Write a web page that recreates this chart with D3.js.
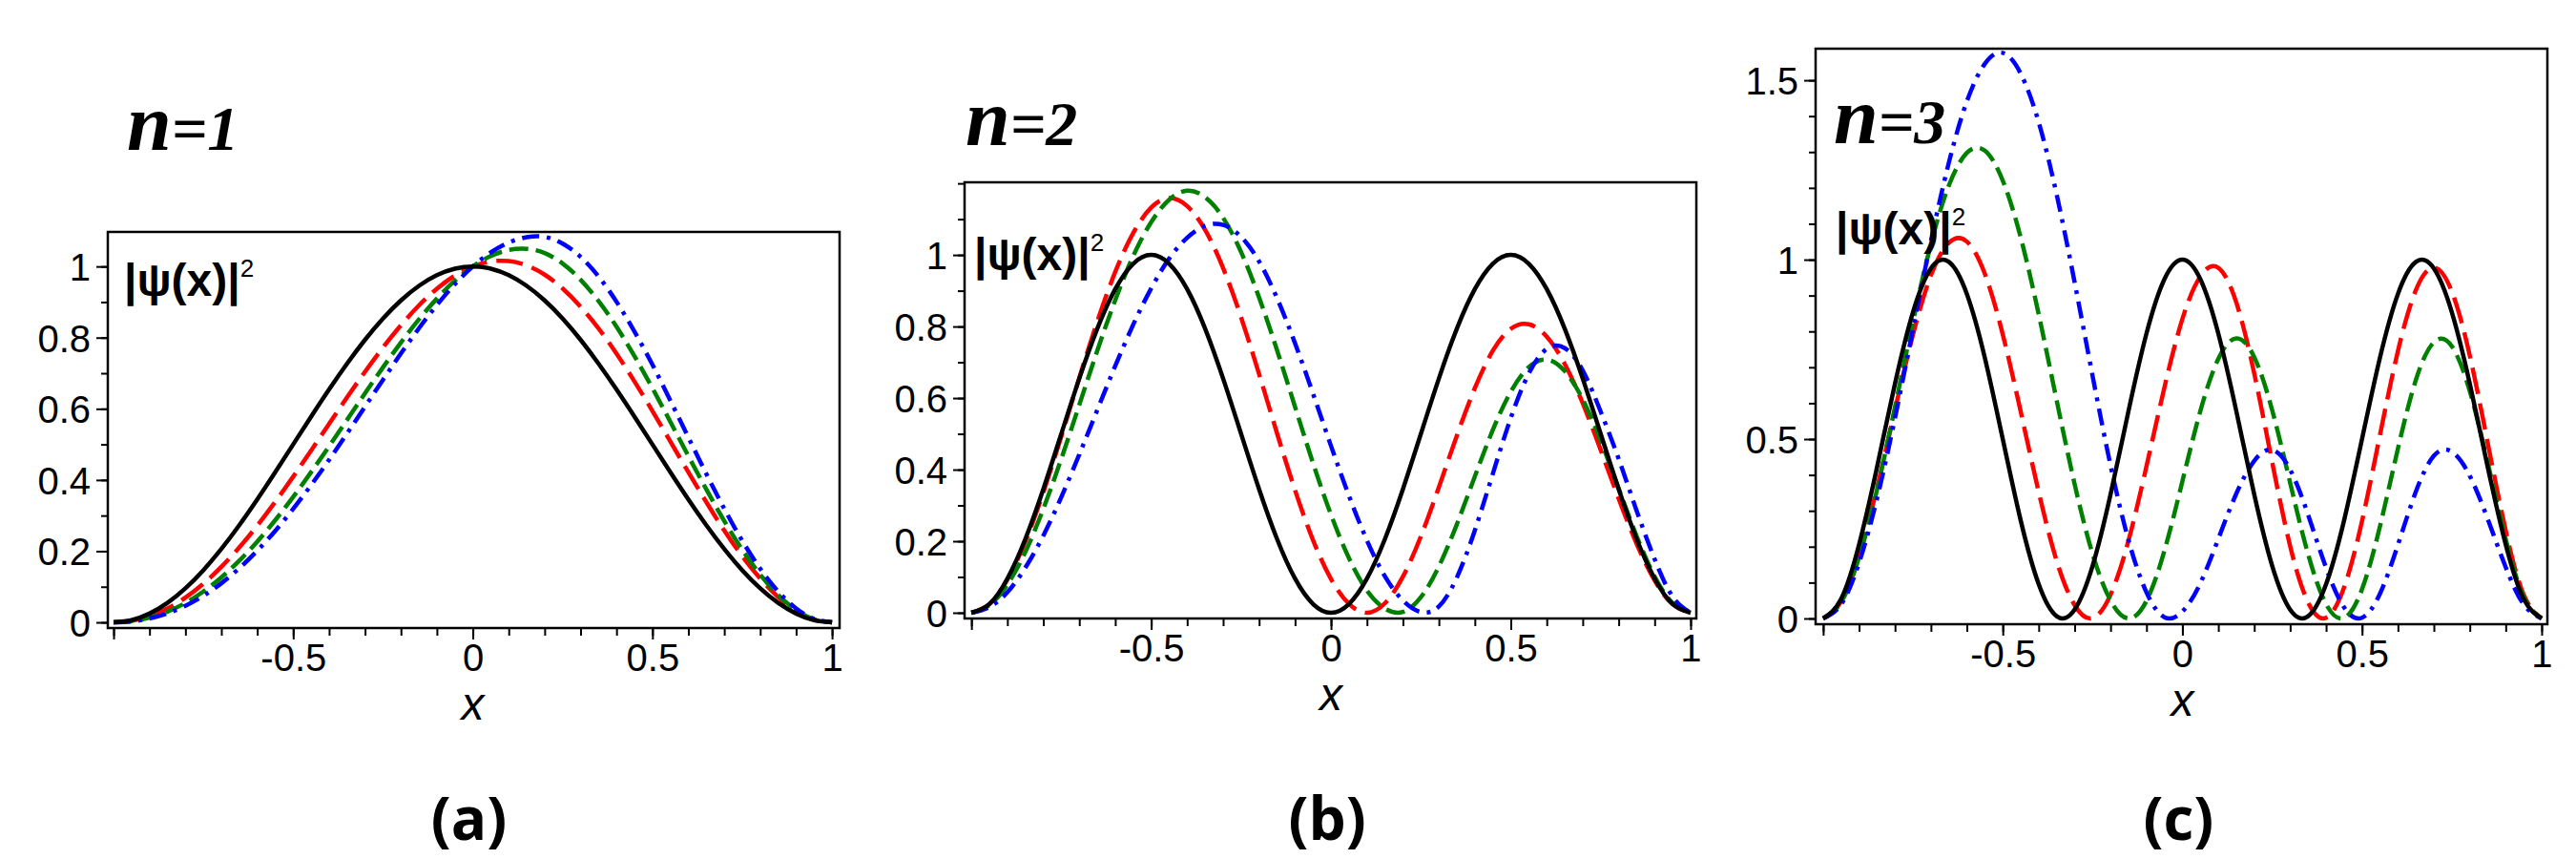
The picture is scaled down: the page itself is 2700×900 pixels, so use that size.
<!DOCTYPE html>
<html>
<head>
<meta charset="utf-8">
<script src="https://cdn.jsdelivr.net/npm/d3@7"></script>
<style>
  body { margin: 0; background: #fff; }
</style>
</head>
<body>
<script>
// x grid shared by every curve
var xs = [-1, -0.95, -0.9, -0.85, -0.8, -0.75, -0.7, -0.65, -0.6, -0.55, -0.5,
          -0.45, -0.4, -0.35, -0.3, -0.25, -0.2, -0.15, -0.1, -0.05, 0,
          0.05, 0.1, 0.15, 0.2, 0.25, 0.3, 0.35, 0.4, 0.45, 0.5,
          0.55, 0.6, 0.65, 0.7, 0.75, 0.8, 0.85, 0.9, 0.95, 1];

// n = 1
var n1Black = [0, 0.0062, 0.0245, 0.0545, 0.0955, 0.1464, 0.2061, 0.2730, 0.3455, 0.4218, 0.5,
               0.5782, 0.6545, 0.7270, 0.7939, 0.8536, 0.9045, 0.9455, 0.9755, 0.9938, 1,
               0.9938, 0.9755, 0.9455, 0.9045, 0.8536, 0.7939, 0.7270, 0.6545, 0.5782, 0.5,
               0.4218, 0.3455, 0.2730, 0.2061, 0.1464, 0.0955, 0.0545, 0.0245, 0.0062, 0];
var n1Red = [0, 0.0042, 0.0171, 0.0388, 0.0693, 0.1085, 0.1558, 0.2105, 0.2718, 0.3385, 0.4094,
             0.4830, 0.5577, 0.6321, 0.7041, 0.7723, 0.8350, 0.8905, 0.9373, 0.9742, 1.0,
             1.0139, 1.015, 1.003, 0.977, 0.938, 0.887, 0.826, 0.755, 0.677, 0.594,
             0.508, 0.422, 0.338, 0.258, 0.186, 0.123, 0.071, 0.032, 0.008, 0];
var n1Green = [0, 0.0032, 0.0130, 0.0301, 0.0545, 0.0866, 0.1263, 0.1732, 0.2270, 0.2870, 0.3524,
               0.4220, 0.4947, 0.5690, 0.6435, 0.7166, 0.7864, 0.8512, 0.9096, 0.9597, 1.0,
               1.0292, 1.0463, 1.0497, 1.0375, 1.0082, 0.9627, 0.9028, 0.8306, 0.7481, 0.6580,
               0.5634, 0.4676, 0.3738, 0.2849, 0.2041, 0.1340, 0.0769, 0.0346, 0.0087, 0];
var n1Blue = [0, 0.0026, 0.0109, 0.0254, 0.0465, 0.0746, 0.1098, 0.1521, 0.2013, 0.2571, 0.3188,
              0.3857, 0.4566, 0.5306, 0.6061, 0.6816, 0.7555, 0.8261, 0.8915, 0.9501, 1.0,
              1.0396, 1.0674, 1.0821, 1.0831, 1.0643, 1.0270, 0.9718, 0.9009, 0.8172, 0.7241,
              0.6231, 0.5197, 0.4172, 0.3192, 0.2293, 0.1509, 0.0868, 0.0392, 0.0099, 0];

// n = 2
var n2Black = [0, 0.0245, 0.0955, 0.2061, 0.3455, 0.5, 0.6545, 0.7939, 0.9045, 0.9755, 1,
               0.9755, 0.9045, 0.7939, 0.6545, 0.5, 0.3455, 0.2061, 0.0955, 0.0245, 0,
               0.0245, 0.0955, 0.2061, 0.3455, 0.5, 0.6545, 0.7939, 0.9045, 0.9755, 1,
               0.9755, 0.9045, 0.7939, 0.6545, 0.5, 0.3455, 0.2061, 0.0955, 0.0245, 0];
var n2Red = [0, 0.0243, 0.0925, 0.1990, 0.3361, 0.4927, 0.6566, 0.8139, 0.9524, 1.0613, 1.1324,
             1.1589, 1.1366, 1.0699, 0.9635, 0.8257, 0.6673, 0.5015, 0.3426, 0.2032, 0.0943,
             0.0248, 0, 0.0268, 0.1010, 0.2135, 0.3509, 0.4950, 0.6276, 0.7323, 0.7937,
             0.8062, 0.7717, 0.6954, 0.5857, 0.4551, 0.3190, 0.1927, 0.0904, 0.0237, 0];
var n2Green = [0, 0.0213, 0.0788, 0.1699, 0.2905, 0.4302, 0.5808, 0.7320, 0.8738, 0.9969, 1.0916,
               1.1544, 1.1797, 1.1615, 1.1038, 1.0081, 0.8813, 0.7337, 0.5756, 0.4183, 0.2740,
               0.1527, 0.0621, 0.0118, 0.0023, 0.0435, 0.1294, 0.2472, 0.3810, 0.5109, 0.6176,
               0.6865, 0.7077, 0.6754, 0.5965, 0.4812, 0.3471, 0.2142, 0.1015, 0.0273, 0];
var n2Blue = [0, 0.0160, 0.0571, 0.1260, 0.2155, 0.3232, 0.4422, 0.5664, 0.6897, 0.8052, 0.9067,
              0.9899, 1.0482, 1.0816, 1.0839, 1.0505, 0.9819, 0.8791, 0.7532, 0.6125, 0.4665,
              0.3267, 0.2022, 0.1015, 0.0342, 0.0018, 0.0175, 0.0985, 0.2302, 0.3886, 0.5443,
              0.6686, 0.7373, 0.7395, 0.6772, 0.5622, 0.43, 0.285, 0.15, 0.045, 0];

// n = 3
var n3Black = [0, 0.0545, 0.2061, 0.4218, 0.6545, 0.8536, 0.9755, 0.9938, 0.9045, 0.7270, 0.5,
               0.2730, 0.0955, 0.0062, 0.0245, 0.1464, 0.3455, 0.5782, 0.7939, 0.9455, 1,
               0.9455, 0.7939, 0.5782, 0.3455, 0.1464, 0.0245, 0.0062, 0.0955, 0.2730, 0.5,
               0.7270, 0.9045, 0.9938, 0.9755, 0.8536, 0.6545, 0.4218, 0.2061, 0.0545, 0];
var n3Red = [0, 0.0468, 0.1749, 0.3637, 0.5817, 0.7907, 0.9561, 1.0470, 1.0504, 0.9608, 0.7918,
             0.5763, 0.3526, 0.1607, 0.0372, 0.0010, 0.0662, 0.2169, 0.4240, 0.6439, 0.8348,
             0.9534, 0.9774, 0.8811, 0.6830, 0.4354, 0.2016, 0.0446, 0.0020, 0.0861, 0.2710,
             0.5113, 0.7455, 0.9152, 0.978, 0.9113, 0.7328, 0.489, 0.2452, 0.0667, 0];
var n3Green = [0, 0.0454, 0.1704, 0.3590, 0.5894, 0.8275, 1.0438, 1.2068, 1.2975, 1.3039, 1.2202,
               1.0617, 0.8479, 0.6080, 0.3746, 0.1797, 0.0500, 0.0001, 0.0490, 0.1888, 0.3823,
               0.5783, 0.7235, 0.7809, 0.7285, 0.5804, 0.3779, 0.1789, 0.0401, 0.0016, 0.0815,
               0.2568, 0.4734, 0.6649, 0.7699, 0.7585, 0.6334, 0.4341, 0.2213, 0.0609, 0];
var n3Blue = [0, 0.0393, 0.1552, 0.3341, 0.5586, 0.8060, 1.0516, 1.2706, 1.4411, 1.5458, 1.5762,
              1.5185, 1.3829, 1.1816, 0.9371, 0.6761, 0.4267, 0.2181, 0.0727, 0.0034, 0.0193,
              0.0984, 0.2220, 0.3477, 0.4394, 0.4697, 0.4150, 0.2888, 0.1412, 0.0310, 0.0020,
              0.0691, 0.2052, 0.3537, 0.4534, 0.4649, 0.3977, 0.2769, 0.1428, 0.0394, 0];

// tick labels
var xTickLabels = [-0.5, 0, 0.5, 1];
var yTickLabelsA = [0, 0.2, 0.4, 0.6, 0.8, 1];
var yTickLabelsB = [0, 0.2, 0.4, 0.6, 0.8, 1];
var yTickLabelsC = [0, 0.5, 1, 1.5];
var panelTitles = ["1", "2", "3"];
var panelTags = ["(a)", "(b)", "(c)"];

// line styles: black solid, red long dash, green dash, blue dash-dot
var lineStyles = [
  { color: "#000000", dash: null },
  { color: "#ff0000", dash: "28,10" },
  { color: "#008000", dash: "20,8" },
  { color: "#0000ff", dash: "18,8,4,8" }
];

var svg = d3.select("body").append("svg")
    .attr("width", 2700)
    .attr("height", 900)
    .style("background-color", "#fff");

var panels = [
  { box: [113, 880, 243, 658], xDom: [-1.016, 1.021], yDom: [-0.016, 1.097],
    yLabels: yTickLabelsA, series: [n1Black, n1Red, n1Green, n1Blue],
    title: [133, 157], psi: [130, 310] },
  { box: [1011, 1778, 191, 648], xDom: [-1.019, 1.016], yDom: [-0.016, 1.203],
    yLabels: yTickLabelsB, series: [n2Black, n2Red, n2Green, n2Blue],
    title: [1012, 152], psi: [1021, 283] },
  { box: [1903, 2670, 51, 654], xDom: [-1.021, 1.016], yDom: [-0.016, 1.588],
    yLabels: yTickLabelsC, series: [n3Black, n3Red, n3Green, n3Blue],
    title: [1922, 150], psi: [1924, 256] }
];

panels.forEach(function(p, i) {
  var x = d3.scaleLinear().domain(p.xDom).range([p.box[0], p.box[1]]);
  var y = d3.scaleLinear().domain(p.yDom).range([p.box[3], p.box[2]]);
  var g = svg.append("g");

  // minor ticks every 0.1
  var xMinor = d3.range(-10, 11).map(function(k) { return k / 10; });
  var yMinor = d3.range(0, Math.floor(p.yDom[1] * 10 + 1e-9) + 1).map(function(k) { return k / 10; });

  g.append("g")
      .attr("transform", "translate(0," + p.box[3] + ")")
      .call(d3.axisBottom(x).tickValues(xMinor).tickSize(8).tickFormat(""));
  var xAxis = g.append("g")
      .attr("transform", "translate(0," + p.box[3] + ")")
      .call(d3.axisBottom(x).tickValues([-1].concat(xTickLabels)).tickSize(12).tickPadding(5)
        .tickFormat(function(d) { return d === -1 ? "" : String(d); }));

  g.append("g")
      .attr("transform", "translate(" + p.box[0] + ",0)")
      .call(d3.axisLeft(y).tickValues(yMinor).tickSize(7).tickFormat(""));
  var yAxis = g.append("g")
      .attr("transform", "translate(" + p.box[0] + ",0)")
      .call(d3.axisLeft(y).tickValues(p.yLabels).tickSize(12).tickPadding(6)
        .tickFormat(function(d) { return String(d); }));

  g.selectAll(".domain").remove();
  g.selectAll(".tick line").attr("stroke", "#000").attr("stroke-width", 2);
  g.selectAll(".tick text")
      .attr("fill", "#000")
      .style("font-family", "'Liberation Sans', Arial, sans-serif")
      .style("font-size", "40px");
  yAxis.selectAll(".tick text").attr("dy", "0.36em");

  // curves: coloured first, black on top
  var line = d3.line()
      .x(function(d) { return x(d[0]); })
      .y(function(d) { return y(d[1]); })
      .curve(d3.curveNatural);

  [1, 2, 3, 0].forEach(function(s) {
    var pts = xs.map(function(xv, k) { return [xv, p.series[s][k]]; });
    g.append("path")
        .datum(pts)
        .attr("d", line)
        .attr("fill", "none")
        .attr("stroke", lineStyles[s].color)
        .attr("stroke-width", 4.5)
        .attr("stroke-dasharray", lineStyles[s].dash)
        .attr("stroke-linejoin", "round");
  });

  // frame
  g.append("rect")
      .attr("x", p.box[0])
      .attr("y", p.box[2])
      .attr("width", p.box[1] - p.box[0])
      .attr("height", p.box[3] - p.box[2])
      .attr("fill", "none")
      .attr("stroke", "#000")
      .attr("stroke-width", 2.5);

  // |psi(x)|^2 label
  var psi = g.append("text")
      .attr("x", p.psi[0])
      .attr("y", p.psi[1])
      .style("font-family", "'Liberation Sans', Arial, sans-serif")
      .style("font-weight", "bold")
      .style("font-size", "48px")
      .text("|\u03c8(x)|");
  psi.append("tspan")
      .attr("dy", -20)
      .style("font-size", "26px")
      .style("font-weight", "normal")
      .text("2");

  // n = ... title
  var t = g.append("text")
      .attr("x", p.title[0])
      .attr("y", p.title[1])
      .style("font-family", "'Liberation Serif', 'DejaVu Serif', serif")
      .style("font-style", "italic")
      .style("font-weight", "bold");
  t.append("tspan").style("font-size", "84px").text("n");
  t.append("tspan").style("font-size", "66px").text("=" + panelTitles[i]);

  // x axis title
  g.append("text")
      .attr("x", x(0))
      .attr("y", p.box[3] + 96)
      .attr("text-anchor", "middle")
      .style("font-family", "'Liberation Sans', Arial, sans-serif")
      .style("font-style", "italic")
      .style("font-size", "48px")
      .text("x");

  // panel tag
  g.append("text")
      .attr("x", x(0) - 4)
      .attr("y", 880)
      .attr("text-anchor", "middle")
      .style("font-family", "'Open Sans', 'Noto Sans', sans-serif")
      .style("font-weight", "bold")
      .style("font-size", "62px")
      .text(panelTags[i]);
});
</script>
</body>
</html>
